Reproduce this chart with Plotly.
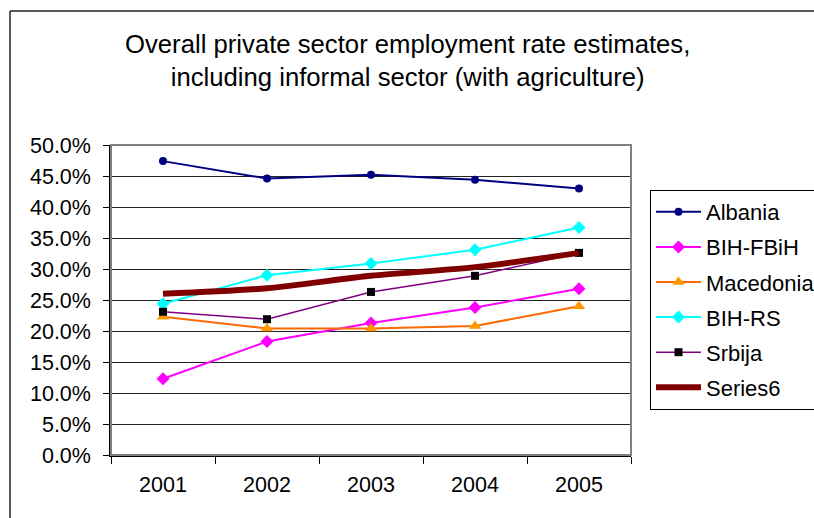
import plotly.graph_objects as go

# Survey years on the category axis
years = ["2001", "2002", "2003", "2004", "2005"]

# Employment rate estimates (fractions)
albania = [0.474, 0.446, 0.452, 0.444, 0.430]
bih_fbih = [0.123, 0.183, 0.213, 0.238, 0.268]
macedonia = [0.223, 0.204, 0.204, 0.208, 0.240]
bih_rs = [0.244, 0.290, 0.309, 0.331, 0.367]
srbija = [0.231, 0.219, 0.263, 0.289, 0.326]
series6 = [0.260, 0.269, 0.289, 0.303, 0.326]

y_ticks = [i * 0.05 for i in range(11)]

FONT = "Liberation Sans, Arial, sans-serif"

fig = go.Figure()

fig.add_trace(go.Scatter(
    x=years, y=albania, name="Albania", mode="lines+markers",
    line=dict(color="#000080", width=2),
    marker=dict(symbol="circle", size=8, color="#000080"),
    legendgroup="a",
))
fig.add_trace(go.Scatter(
    x=years, y=bih_fbih, name="BIH-FBiH", mode="lines+markers",
    line=dict(color="#FF00FF", width=2),
    marker=dict(symbol="diamond", size=10, color="#FF00FF"),
    legendgroup="b",
))
fig.add_trace(go.Scatter(
    x=years, y=macedonia, name="Macedonia", mode="lines+markers",
    line=dict(color="#FF6A00", width=2),
    marker=dict(symbol="triangle-up", size=11, color="#FF9900"),
    legendgroup="c",
))
fig.add_trace(go.Scatter(
    x=years, y=bih_rs, name="BIH-RS", mode="lines+markers",
    line=dict(color="#00FFFF", width=2),
    marker=dict(symbol="diamond", size=10, color="#00FFFF"),
    legendgroup="d",
))
fig.add_trace(go.Scatter(
    x=years, y=srbija, name="Srbija", mode="lines+markers",
    line=dict(color="#800080", width=1.5),
    marker=dict(symbol="square", size=8, color="#000000"),
    legendgroup="e",
))
fig.add_trace(go.Scatter(
    x=years, y=series6, name="Series6", mode="lines",
    line=dict(color="#800000", width=6, shape="spline", smoothing=0.8),
    legendgroup="f",
))


def px_x(px):
    return (px - 111) / 520


def px_y(py):
    return (455 - py) / 310


# Plot-area frame (grey top/right)
fig.add_shape(type="rect", xref="paper", yref="paper", x0=0, y0=0, x1=1, y1=1,
              line=dict(color="#808080", width=2), layer="above")

# Outer chart border: only the top and left edges fall inside the page
fig.add_shape(type="line", xref="paper", yref="paper",
              x0=px_x(10), y0=px_y(11), x1=px_x(814), y1=px_y(11),
              line=dict(color="#222222", width=1.5), layer="above")
fig.add_shape(type="line", xref="paper", yref="paper",
              x0=px_x(10), y0=px_y(11), x1=px_x(10), y1=px_y(518),
              line=dict(color="#222222", width=1.5), layer="above")

fig.add_annotation(
    text="Overall private sector employment rate estimates,<br>including informal sector (with agriculture)",
    xref="paper", yref="paper", x=px_x(407), y=px_y(61),
    xanchor="center", yanchor="middle", showarrow=False,
    font=dict(family=FONT, size=25.7, color="#000000"),
)

fig.update_layout(
    width=814, height=518,
    margin=dict(l=111, r=183, t=145, b=63),
    paper_bgcolor="white", plot_bgcolor="white",
    font=dict(family=FONT, size=22, color="#000000"),
    showlegend=True,
    legend=dict(
        xref="container", yref="container",
        x=650 / 814, y=1 - 190 / 518, xanchor="left", yanchor="top",
        bgcolor="white", bordercolor="#000000", borderwidth=1,
        font=dict(family=FONT, size=22, color="#000000"),
        tracegroupgap=3.5, itemwidth=45, traceorder="grouped",
    ),
)

fig.update_xaxes(
    type="category", range=[-0.5, 4.5],
    showline=True, linecolor="#000000", linewidth=1.5,
    ticks="outside", tickson="boundaries", ticklen=7, tickcolor="#000000",
    showgrid=False, ticklabelstandoff=9,
    tickfont=dict(family=FONT, size=21.5, color="#000000"),
)
fig.update_yaxes(
    range=[0, 0.5], tickvals=y_ticks, tickformat=".1%",
    showline=True, linecolor="#000000", linewidth=1.5,
    ticks="outside", ticklen=6, tickcolor="#000000",
    showgrid=True, gridcolor="#222222", gridwidth=1,
    zeroline=False, ticklabelstandoff=8,
    tickfont=dict(family=FONT, size=21.5, color="#000000"),
)

fig.write_html("out.html")
